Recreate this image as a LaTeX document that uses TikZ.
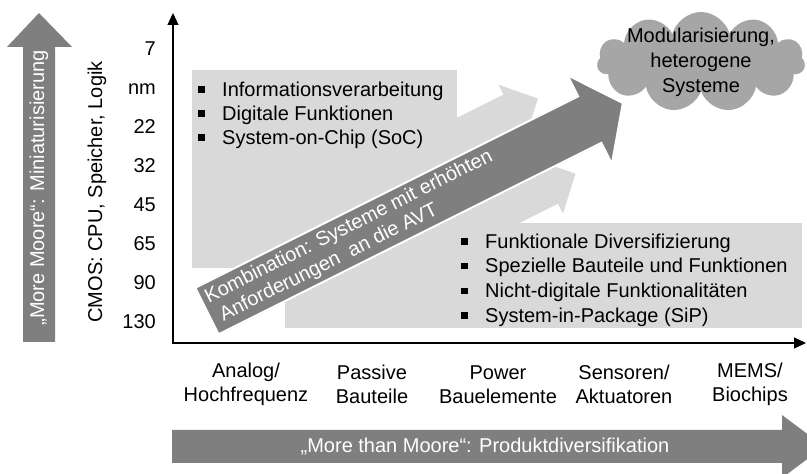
\documentclass[tikz,border=0pt]{standalone}
\usepackage{fontspec}
\setmainfont{Liberation Sans}
\usetikzlibrary{arrows.meta,shapes.symbols}

\definecolor{dunkelgrau}{HTML}{7F7F7F}
\definecolor{hellgrau}{HTML}{D9D9D9}
\definecolor{wolkengrau}{HTML}{A6A6A6}

% square bullet for the lists
\newcommand{\sqbullet}{\makebox[24pt][l]{\raisebox{3.5pt}{\rule{6.5pt}{6.5pt}}}}

\tikzset{
	axis/.style={line width=1.2pt, {Triangle[width=11pt,length=12pt]}-{Triangle[width=11pt,length=12pt]}},
	tick/.style={anchor=east, inner sep=0pt, text height=14.3pt, text depth=0pt},
	bullets/.style={anchor=north west, inner sep=0pt, align=left},
	whitetext/.style={text=white, inner sep=0pt},
}

\begin{document}
\begin{tikzpicture}[x=1pt, y=1pt, font=\fontsize{20}{24}\selectfont]
	\useasboundingbox (0,0) rectangle (807,474);

	% light grey areas
	\fill[hellgrau] (192,206) rectangle (457,404);
	\fill[hellgrau] (285,146) rectangle (802,251);

	% the three diagonal arrows
	\begin{scope}[shift={(207,163)}, rotate=26.57]
		\fill[hellgrau] (100,23) -- (362,23) -- (362,12) -- (391,42) -- (362,72) -- (362,61) -- (100,61) -- cycle;
		\fill[hellgrau] (100,-23) -- (362,-23) -- (362,-12) -- (391,-42) -- (362,-72) -- (362,-61) -- (100,-61) -- cycle;
		\filldraw[fill=dunkelgrau, draw=white, line width=2pt]
			(0,-26) -- (428,-26) -- (428,-49.5) -- (465,0) -- (428,49.5) -- (428,26) -- (0,26) -- cycle;
		\node[whitetext, anchor=west, align=left, transform shape, font=\fontsize{20}{23}\selectfont] (komb) at (5,0)
			{Kombination: Systeme mit erhöhten\\\hspace*{5pt}Anforderungen\ \ an die AVT};
	\end{scope}

	\node[bullets] (digital) at (198,393)
		{\rule{0pt}{15pt}\sqbullet Informationsverarbeitung\\
		 \sqbullet Digitale Funktionen\\
		 \sqbullet System-on-Chip (SoC)};
	\node[bullets, font=\fontsize{20}{24.7}\selectfont] (divers) at (461,241)
		{\rule{0pt}{15pt}\sqbullet Funktionale Diversifizierung\\
		 \sqbullet Spezielle Bauteile und Funktionen\\
		 \sqbullet Nicht-digitale Funktionalitäten\\
		 \sqbullet System-in-Package (SiP)};

	% cloud
	\node[cloud, cloud puffs=11, cloud ignores aspect, fill=wolkengrau, minimum width=208pt, minimum height=100pt, inner sep=0pt] (wolke) at (701,412) {};
	\node[align=center, font=\fontsize{20}{25}\selectfont] (wolketext) at (wolke.center) {Modularisierung,\\heterogene\\Systeme};

	% axes
	\coordinate (ursprung) at (173,131);
	\coordinate (yspitze) at (173,461);
	\coordinate (xspitze) at (806,131);
	\draw[axis] (yspitze) |- (xspitze);

	\foreach \lab [count=\i] in {7,nm,22,32,45,65,90,130}
		\node[tick] (n\i) at (156,{426-39.1*(\i-1)}) {\lab};
	\node[rotate=90] (cmos) at (97,282) {CMOS: CPU, Speicher, Logik};

	\foreach \lab [count=\i] in {{Analog/\\Hochfrequenz},{Passive\\Bauteile},{Power\\Bauelemente},{Sensoren/\\Aktuatoren},{MEMS/\\Biochips}}
		\node[align=center] (kat\i) at ({246+126*(\i-1)},89.5) {\lab};

	% More Moore / More than Moore
	\fill[dunkelgrau] (23,132) -- (23,427) -- (7,427) -- (39,461) -- (72,427) -- (55,427) -- (55,132) -- cycle;
	\node[whitetext, rotate=90] (moore) at (39,286) {„More Moore“: Miniaturisierung};

	\fill[dunkelgrau] (172,11) -- (782,11) -- (782,-4) -- (824,27.5) -- (782,59) -- (782,44) -- (172,44) -- cycle;
	\node[whitetext] (mtm) at (485,27.5) {„More than Moore“: Produktdiversifikation};
\end{tikzpicture}
\end{document}
